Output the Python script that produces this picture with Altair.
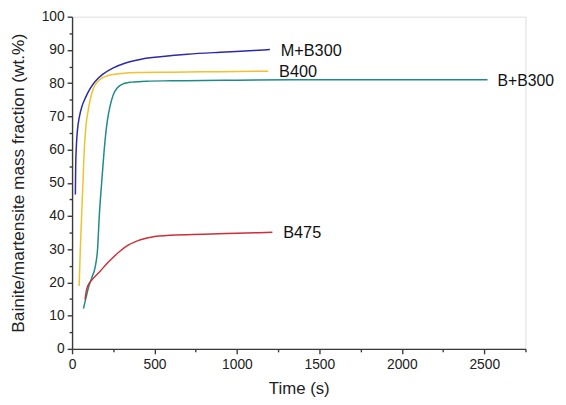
import altair as alt
import pandas as pd

# ---------------- data ----------------
series_names = ["M+B300", "B400", "B+B300", "B475"]
series_colors = ["#2b2ba8", "#f0c22c", "#1f8a8c", "#cc2f3a"]

mb300_t = [20, 22, 26, 33, 45, 60, 80, 105, 140, 190, 250, 320, 420, 550, 700, 900, 1100, 1200]
mb300_v = [46.5, 55, 61, 66, 70, 73, 75.5, 78, 80.5, 82.8, 84.6, 86, 87.2, 88, 88.7, 89.3, 89.8, 90.1]

b400_t = [43, 50, 58, 66, 74, 84, 95, 110, 130, 150, 180, 220, 300, 400, 600, 800, 1000, 1190]
b400_v = [18.9, 30, 40, 50, 60, 67, 71, 75, 78.5, 80.2, 81.5, 82.3, 82.9, 83.2, 83.3, 83.4, 83.5, 83.6]

bb300_t = [69, 85, 100, 120, 139, 155, 165, 179, 195, 203, 215, 230, 250, 275, 310, 360, 450, 600,
           800, 1000, 1500, 2000, 2520]
bb300_v = [12.1, 15.5, 18.5, 21.5, 24.4, 30.3, 40, 49.7, 60, 64.2, 69, 73, 76.5, 78.6, 79.8, 80.3,
           80.6, 80.7, 80.8, 80.9, 81, 81, 81]

b475_t = [79, 85, 92, 105, 130, 170, 210, 250, 290, 340, 400, 480, 600, 800, 1000, 1215]
b475_v = [14.8, 17, 18.5, 19.8, 21.3, 23.4, 25.6, 27.6, 29.4, 31.2, 32.6, 33.6, 34.2, 34.5, 34.8, 35.1]

x_major = [0, 500, 1000, 1500, 2000, 2500]
x_minor = [250, 750, 1250, 1750, 2250, 2750]
y_major = [0, 10, 20, 30, 40, 50, 60, 70, 80, 90, 100]
y_minor = [5, 15, 25, 35, 45, 55, 65, 75, 85, 95]

# ---------------- tables ----------------
all_t = [mb300_t, b400_t, bb300_t, b475_t]
all_v = [mb300_v, b400_v, bb300_v, b475_v]
rows = []
for name, ts, vs in zip(series_names, all_t, all_v):
    for i, (t, v) in enumerate(zip(ts, vs)):
        rows.append({"series": name, "t": t, "v": v, "i": i})
df = pd.DataFrame(rows)

labels_df = pd.DataFrame({
    "series": series_names,
    "t": [ts[-1] for ts in all_t],
    "v": [vs[-1] for vs in all_v],
})

FONT = "Liberation Sans"
AX_COLOR = "#3a3a3a"

xscale = alt.Scale(domain=[0, 2750], nice=False, zero=False)
yscale = alt.Scale(domain=[0, 100], nice=False, zero=False)

x_main_axis = alt.Axis(values=x_major, title="Time (s)", grid=False, tickSize=5, format="d",
                       labelFontSize=14, titleFontSize=17, labelPadding=4, titlePadding=9,
                       labelFlush=False, labelColor="#222222", titleColor="#222222",
                       titleFontWeight="normal", domainColor=AX_COLOR, tickColor=AX_COLOR,
                       domainWidth=1.4, tickWidth=1.4, labelFont=FONT, titleFont=FONT,
                       orient="bottom")
y_main_axis = alt.Axis(values=y_major, title="Bainite/martensite mass fraction (wt.%)",
                       grid=False, tickSize=5, labelFontSize=14, titleFontSize=17.5, format="d",
                       labelPadding=3, titlePadding=14, labelFlush=False,
                       labelColor="#222222", titleColor="#222222", titleFontWeight="normal",
                       domainColor=AX_COLOR, tickColor=AX_COLOR, domainWidth=1.4,
                       tickWidth=1.4, labelFont=FONT, titleFont=FONT, orient="left")
x_minor_axis = alt.Axis(values=x_minor, title=None, labels=False, grid=False, tickSize=3,
                        domain=False, tickColor=AX_COLOR, tickWidth=1.4, orient="bottom")
y_minor_axis = alt.Axis(values=y_minor, title=None, labels=False, grid=False, tickSize=3,
                        domain=False, tickColor=AX_COLOR, tickWidth=1.4, orient="left")

color = alt.Color("series:N", scale=alt.Scale(domain=series_names, range=series_colors),
                  legend=None)

lines = alt.Chart(df).mark_line(strokeWidth=1.5, interpolate="monotone").encode(
    x=alt.X("t:Q", scale=xscale, axis=x_main_axis),
    y=alt.Y("v:Q", scale=yscale, axis=y_main_axis),
    color=color,
    order="i:Q",
)

minor = alt.Chart(df).mark_point(opacity=0).encode(
    x=alt.X("t:Q", scale=xscale, axis=x_minor_axis),
    y=alt.Y("v:Q", scale=yscale, axis=y_minor_axis),
)


def label_layer(names, dx, size):
    return alt.Chart(labels_df).transform_filter(
        alt.FieldOneOfPredicate(field="series", oneOf=names)
    ).mark_text(align="left", baseline="middle", dx=dx, dy=1,
                fontSize=size, font=FONT, color="#111111").encode(
        x=alt.X("t:Q", scale=xscale, axis=None),
        y=alt.Y("v:Q", scale=yscale, axis=None),
        text="series:N",
    )


texts_a = label_layer(["M+B300", "B400", "B475"], 11, 16.5)
texts_b = label_layer(["B+B300"], 10, 16)

chart = alt.layer(lines, minor, texts_a, texts_b).resolve_axis(
    x="independent", y="independent"
).properties(
    width=460, height=337,
    autosize=alt.AutoSizeParams(type="none"),
    padding={"left": 65, "top": 6, "right": 33, "bottom": 46},
).configure_view(stroke=None).configure(background="white")

chart.save("out.html", embed_options={"renderer": "svg", "actions": False})
